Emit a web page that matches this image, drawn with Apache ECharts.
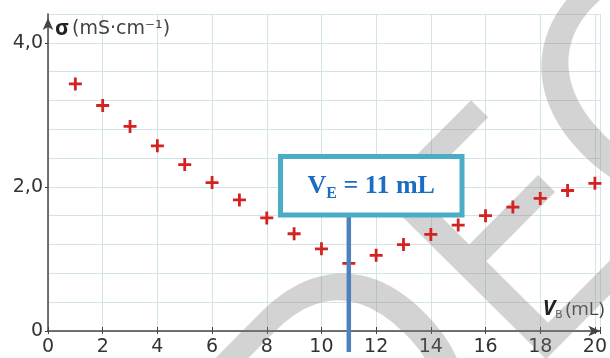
<!DOCTYPE html>
<html>
<head>
<meta charset="utf-8">
<script src="https://cdn.jsdelivr.net/npm/echarts@6/dist/echarts.min.js"></script>
<style>
html,body{margin:0;padding:0;background:#fff;}
#c{width:610px;height:358px;}
</style>
</head>
<body>
<div id="c"></div>
<script>
// ---- data ----
const volumes = [1, 2, 3, 4, 5, 6, 7, 8, 9, 10, 11, 12, 13, 14, 15, 16, 17, 18, 19, 20];
const conductivity = [3.43, 3.13, 2.84, 2.57, 2.31, 2.06, 1.82, 1.57, 1.35, 1.14, 0.94, 1.05, 1.20, 1.34, 1.47, 1.60, 1.72, 1.84, 1.95, 2.05];
const yTickLabels = {0: '0', 2: '2,0', 4: '4,0'};
const equivalenceVolume = 11;
const calloutText = ['V', 'E', ' = 11 mL'];
const watermarkText = 'DEC';

const points = volumes.map((v, i) => [v, conductivity[i]]);
const plusPath = 'path://M5.5,0h3v5.5h5.5v3h-5.5v5.5h-3v-5.5h-5.5v-3h5.5z';
const gridColor = '#d3e4e9';
const axisColor = '#444';
const labelFont = 'DejaVu Sans';

const chart = echarts.init(document.getElementById('c'), null, {renderer: 'canvas'});

const watermark = {
  type: 'text', z: 1, silent: true,
  x: 510, y: 262, rotation: 0.79,
  style: {
    text: watermarkText, font: '330px "Open Sans"', fill: 'rgba(120,120,120,0.33)',
    align: 'center', verticalAlign: 'middle'
  }
};

const option = {
  backgroundColor: '#fff',
  animation: false,
  grid: {left: 48, right: 6.5, top: 14, bottom: 27, containLabel: false},
  xAxis: [{
    type: 'value', min: 0, max: 20.2, interval: 2,
    axisLine: {show: true, lineStyle: {color: axisColor, width: 1.5}, symbol: ['none', 'arrow'], symbolSize: [8, 12]},
    axisTick: {show: true, length: 3, lineStyle: {color: axisColor, width: 1}},
    axisLabel: {
      show: true, margin: 7, color: '#333', fontFamily: labelFont, fontSize: 19, showMaxLabel: true,
      formatter: function (v) { const r = Math.round(v); return (Math.abs(v - r) < 1e-6 && r % 2 === 0) ? String(r) : ''; }
    },
    splitLine: {show: true, lineStyle: {color: gridColor, width: 1}},
    name: '{v|V}{b|B} {t|(mL)}',
    nameLocation: 'end', nameGap: 4,
    nameTextStyle: {
      align: 'right', verticalAlign: 'bottom', padding: [0, 0, 11, 0],
      rich: {
        v: {fontFamily: 'Open Sans', fontWeight: 'bold', fontStyle: 'italic', fontSize: 21, color: '#222'},
        b: {fontFamily: 'Open Sans', fontSize: 11, color: '#444', verticalAlign: 'bottom', lineHeight: 12},
        t: {fontFamily: 'Open Sans', fontSize: 19, color: '#444'}
      }
    }
  }, {
    type: 'value', min: 0, max: 20.2, interval: 2, position: 'bottom',
    axisLine: {show: false}, axisLabel: {show: false}, splitLine: {show: false},
    axisTick: {show: true, inside: true, length: 4, lineStyle: {color: axisColor, width: 1}}
  }],
  yAxis: [{
    type: 'value', min: 0, max: 4.4, interval: 2,
    axisLine: {show: true, lineStyle: {color: axisColor, width: 1.5}, symbol: ['none', 'arrow'], symbolSize: [8, 12], symbolOffset: [0, -4]},
    axisTick: {show: true, length: 3, lineStyle: {color: axisColor, width: 1}},
    axisLabel: {
      show: true, margin: 5, color: '#333', fontFamily: labelFont, fontSize: 19, showMaxLabel: false,
      formatter: function (v) { const r = Math.round(v); return (Math.abs(v - r) < 1e-6 && yTickLabels[r] !== undefined) ? yTickLabels[r] : ''; }
    },
    splitLine: {show: false},
    name: '{s|σ} {t|(mS·cm⁻¹)}',
    nameLocation: 'end', nameGap: -5,
    nameTextStyle: {
      align: 'left', verticalAlign: 'top', padding: [0, 0, 0, 7],
      rich: {
        s: {fontFamily: 'Open Sans', fontWeight: 'bold', fontSize: 21, color: '#222'},
        t: {fontFamily: 'DejaVu Sans', fontSize: 19, color: '#444'}
      }
    }
  }, {
    type: 'value', min: 0, max: 4.4, interval: 0.4, position: 'left',
    axisLine: {show: false}, axisTick: {show: false}, axisLabel: {show: false},
    splitLine: {show: true, lineStyle: {color: gridColor, width: 1}}
  }],
  graphic: [watermark],
  series: [{
    type: 'scatter', xAxisIndex: 0, yAxisIndex: 0, z: 5,
    data: points,
    symbol: plusPath, symbolSize: 13, symbolKeepAspect: true,
    itemStyle: {color: '#d42222', opacity: 1}
  }]
};
chart.setOption(option);

// Callout: vertical line at the equivalence volume, placed through the axis scale
const pBase = chart.convertToPixel({xAxisIndex: 0, yAxisIndex: 0}, [equivalenceVolume, 0]);
const boxX = 280.5, boxY = 156.5, boxW = 181.5, boxH = 58.5;
chart.setOption({
  graphic: [watermark, {
    type: 'line', z: 50, silent: true,
    shape: {x1: pBase[0], y1: boxY + boxH, x2: pBase[0], y2: pBase[1] + 21},
    style: {stroke: '#4f81bd', lineWidth: 4.5}
  }, {
    type: 'rect', z: 60, silent: true,
    shape: {x: boxX, y: boxY, width: boxW, height: boxH},
    style: {fill: '#fff', stroke: '#4bacc6', lineWidth: 5}
  }, {
    type: 'text', z: 61, silent: true,
    x: boxX + boxW / 2, y: boxY + boxH / 2 + 1,
    style: {
      text: '{m|' + calloutText[0] + '}{s|' + calloutText[1] + '}{m|' + calloutText[2] + '}',
      align: 'center', verticalAlign: 'middle',
      rich: {
        m: {fontFamily: 'Liberation Serif', fontWeight: 'bold', fontSize: 26, lineHeight: 30, fill: '#1a6dc2'},
        s: {fontFamily: 'Liberation Serif', fontWeight: 'bold', fontSize: 16, lineHeight: 16, verticalAlign: 'bottom', fill: '#1a6dc2'}
      }
    }
  }]
});
</script>
</body>
</html>
